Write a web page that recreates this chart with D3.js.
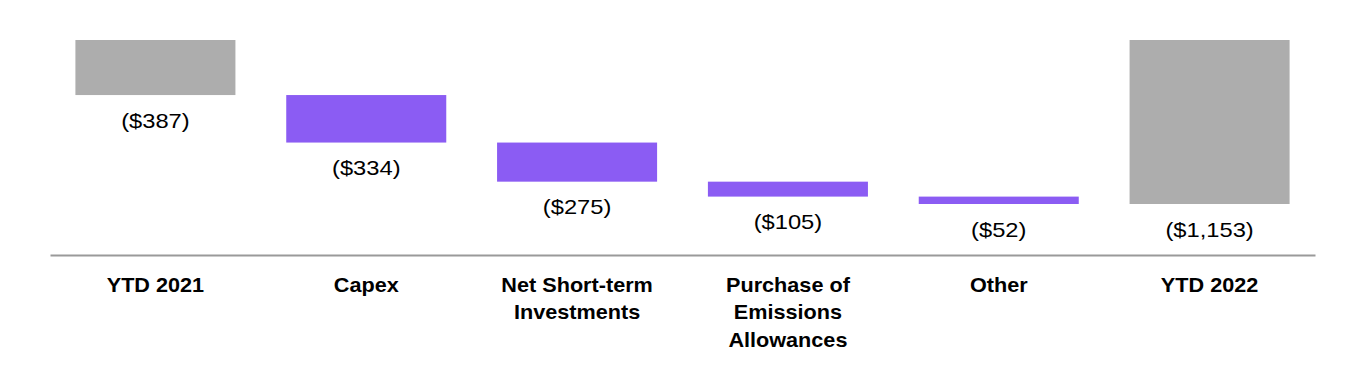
<!DOCTYPE html>
<html>
<head>
<meta charset="utf-8">
<script src="https://cdn.jsdelivr.net/npm/d3@7"></script>
<style>
  body { margin: 0; background: #fff; }
  text { font-family: "Liberation Sans", Arial, sans-serif; fill: #000; }
</style>
</head>
<body>
<script>
var width = 1364,
    height = 370;

// chart data
var categories = ["YTD 2021", "Capex", "Net Short-term Investments", "Purchase of Emissions Allowances", "Other", "YTD 2022"];
var labelLines = [["YTD 2021"], ["Capex"], ["Net Short-term", "Investments"], ["Purchase of", "Emissions", "Allowances"], ["Other"], ["YTD 2022"]];
var values = [-387, -334, -275, -105, -52, -1153];
var kinds = ["total", "step", "step", "step", "step", "total"];

var colors = { total: "#adadad", step: "#8b5cf3" };

// running totals for the waterfall
var running = 0;
var bars = categories.map(function (c, i) {
    var start, end;
    if (kinds[i] == "total") {
        start = 0;
        end = values[i];
        running = values[i];
    } else {
        start = running;
        end = running + values[i];
        running = end;
    }
    return { cat: c, lines: labelLines[i], value: values[i], kind: kinds[i], start: start, end: end };
});

var minVal = d3.min(bars, function (d) { return d.end; });

var x = d3.scaleBand()
    .domain(categories)
    .range([50, 1315])
    .paddingInner(0.241)
    .paddingOuter(0.1205);

var y = d3.scaleLinear()
    .domain([0, minVal])
    .range([40, 204]);

var money = d3.format("$,");

function mid(c) { return x(c) + x.bandwidth() / 2; }

var svg = d3.select("body").append("svg")
    .attr("width", width)
    .attr("height", height);

svg.selectAll("rect.bar")
    .data(bars)
    .enter().append("rect")
    .attr("class", "bar")
    .attr("x", function (d) { return x(d.cat); })
    .attr("width", x.bandwidth())
    .attr("y", function (d) { return y(Math.max(d.start, d.end)); })
    .attr("height", function (d) { return Math.abs(y(d.end) - y(d.start)); })
    .attr("fill", function (d) { return colors[d.kind]; });

// value labels under each bar (text in the original is a bit wide, so stretch it)
svg.selectAll("text.val")
    .data(bars)
    .enter().append("text")
    .attr("class", "val")
    .attr("transform", function (d) {
        return "translate(" + mid(d.cat) + "," + (y(Math.min(d.start, d.end)) + 32.5) + ") scale(1.13,1)";
    })
    .attr("text-anchor", "middle")
    .style("font-size", "21px")
    .text(function (d) { return "(" + money(Math.abs(d.value)) + ")"; });

// axis line
var axis = svg.append("g")
    .attr("transform", "translate(0,255)")
    .call(d3.axisBottom(x).tickSize(0).tickFormat(""));

axis.select(".domain")
    .attr("stroke", "#9a9a9a")
    .attr("stroke-width", 2);

// category labels (wrapped)
var cat = svg.selectAll("text.cat")
    .data(bars)
    .enter().append("text")
    .attr("class", "cat")
    .attr("transform", function (d) { return "translate(" + mid(d.cat) + ",0) scale(1.11,1)"; })
    .attr("text-anchor", "middle")
    .style("font-size", "19.5px")
    .style("font-weight", "bold");

cat.selectAll("tspan")
    .data(function (d) { return d.lines; })
    .enter().append("tspan")
    .attr("x", 0)
    .attr("y", function (d, i) { return 292 + i * 27.5; })
    .text(function (d) { return d; });
</script>
</body>
</html>
